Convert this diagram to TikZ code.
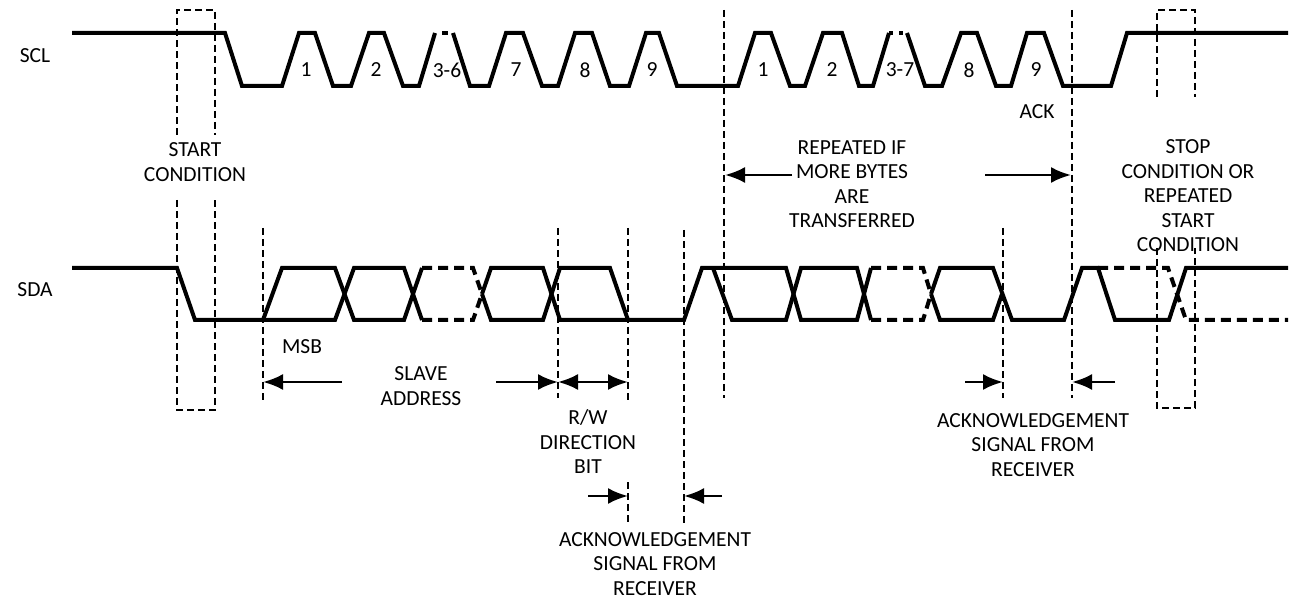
\documentclass[tikz,border=0pt]{standalone}
\usepackage{fontspec}
\setmainfont{Carlito}
\usetikzlibrary{arrows.meta}
\begin{document}
\begin{tikzpicture}[x=1pt,y=-1pt,
    sig/.style={line width=4pt},
    sigdash/.style={line width=4pt,dash pattern=on 10pt off 6pt},
    guide/.style={line width=1.8pt,dash pattern=on 7pt off 4pt},
    arr/.style={line width=2.6pt,-{Latex[length=20pt,width=16pt]}},
    lbl/.style={font=\fontsize{21.5}{24.5}\selectfont,align=center,inner sep=0pt}]
\useasboundingbox (0,0) rectangle (1290,601);
% signal names
\node[lbl] (scl) at (35,56) {SCL};
\node[lbl] (sda) at (35,290) {SDA};
% SCL
\draw[sig] (72,33) -- (225,33) -- (242,86) -- (282,86) -- (299,33) -- (315,33) -- (333,86) -- (351,86)
    -- (369,33) -- (384,33) -- (403,86) -- (419,86) -- (435,33);
\draw[line width=4pt,dash pattern=on 0pt off 7pt on 6pt off 20pt] (435,33) -- (453,33);
\draw[sig] (453,33) -- (470,86) -- (489,86) -- (506,33) -- (523,33) -- (542,86) -- (558,86) -- (575,33)
    -- (592,33) -- (610,86) -- (629,86) -- (646,33) -- (659,33) -- (677,86) -- (738,86) -- (755,33)
    -- (771,33) -- (790,86) -- (805,86) -- (823,33) -- (842,33) -- (859,86) -- (873,86) -- (889,33);
\draw[line width=4pt,dash pattern=on 4pt off 6pt on 4pt off 10pt] (889,33) -- (907,33);
\draw[sig] (907,33) -- (925,86) -- (942,86) -- (961,33) -- (977,33) -- (996,86) -- (1011,86) -- (1027,33)
    -- (1044,33) -- (1063,86) -- (1111,86) -- (1127,33) -- (1288,33);
% clock numbers
\foreach \x/\t [count=\i] in {306/1,376/2,447/3-6,516/7,585/8,652/9,763/1,832/2,900/3-7,969/8,1036/9}
    \node[lbl] (clk\i) at (\x,70) {\t};
\node[lbl] (ack) at (1037,112) {ACK};
% SDA, first line
\draw[sig] (72,268) -- (177,268) -- (195,320) -- (335,320) -- (354,268) -- (404,268) -- (422,320);
\draw[sigdash] (422,320) -- (473,320) -- (482,294);
\draw[sig] (482,294) -- (491,268) -- (543,268) -- (560,320) -- (684,320) -- (702,268) -- (786,268)
    -- (801,320) -- (857,320) -- (871,268);
\draw[sigdash] (871,268) -- (923,268) -- (931,294);
\draw[sig] (931,294) -- (940,320) -- (993,320) -- (1002,294);
% SDA, second line
\draw[sig] (263,320) -- (282,268) -- (335,268) -- (354,320) -- (404,320) -- (422,268);
\draw[sigdash] (422,268) -- (473,268) -- (482,294);
\draw[sig] (482,294) -- (491,320) -- (543,320) -- (560,268) -- (610,268) -- (628,320);
\draw[sig] (713,268) -- (732,320) -- (786,320) -- (801,268) -- (857,268) -- (871,320);
\draw[sigdash] (871,320) -- (923,320) -- (931,294);
\draw[sig] (931,294) -- (940,268) -- (993,268) -- (1012,320) -- (1064,320) -- (1082,268) -- (1098,268)
    -- (1115,320) -- (1169,320) -- (1186,268) -- (1288,268);
\draw[sigdash] (1098,268) -- (1168,268) -- (1186,320) -- (1288,320);
% start and stop boxes
\draw[guide] (177,135) -- (177,10) -- (215,10) -- (215,135);
\draw[guide] (177,200) -- (177,410) -- (215,410) -- (215,200);
\draw[guide] (1157,97) -- (1157,10) -- (1195,10) -- (1195,97);
\draw[guide] (1157,248) -- (1157,408) -- (1195,408) -- (1195,248);
% markers
\draw[guide] (263,228) -- (263,400);
\draw[guide] (558,228) -- (558,398);
\draw[guide] (628,228) -- (628,400);
\draw[guide] (628,482) -- (628,523);
\draw[guide] (684,230) -- (684,523);
\draw[guide] (724,10) -- (724,398);
\draw[guide] (1003,228) -- (1003,398);
\draw[guide] (1072,10) -- (1072,398);
% arrows
\coordinate (msb) at (263,382);
\coordinate (rwA) at (558,382);
\coordinate (rwB) at (628,382);
\coordinate (slaveL) at (342,382);
\coordinate (slaveR) at (496,382);
\coordinate (ackAL) at (588,496);
\coordinate (ackAtipL) at (628,496);
\coordinate (ackAR) at (722,496);
\coordinate (ackAtipR) at (684,496);
\coordinate (repL) at (792,175);
\coordinate (repLtip) at (725,175);
\coordinate (repR) at (985,175);
\coordinate (repRtip) at (1071,175);
\coordinate (ackBL) at (965,382);
\coordinate (ackBtipL) at (1003,382);
\coordinate (ackBR) at (1115,382);
\coordinate (ackBtipR) at (1072,382);
\draw[arr] (slaveL) -- (msb);
\draw[arr] (slaveR) -- (rwA);
\draw[arr,{Latex[length=20pt,width=16pt]}-{Latex[length=20pt,width=16pt]}] (rwA) -- (rwB);
\draw[arr] (ackAL) -- (ackAtipL);
\draw[arr] (ackAR) -- (ackAtipR);
\draw[arr] (repL) -- (repLtip);
\draw[arr] (repR) -- (repRtip);
\draw[arr] (ackBL) -- (ackBtipL);
\draw[arr] (ackBR) -- (ackBtipR);
% texts
\node[lbl] (start) at (195,162) {START\\CONDITION};
\node[lbl] (repeat) at (852,184) {REPEATED IF\\MORE BYTES\\ARE\\TRANSFERRED};
\node[lbl] (stop) at (1188,196) {STOP\\CONDITION OR\\REPEATED\\START\\CONDITION};
\node[lbl] (msbtxt) at (302,347) {MSB};
\node[lbl] (slave) at (421,386) {SLAVE\\ADDRESS};
\node[lbl] (rw) at (588,442) {R/W\\DIRECTION\\BIT};
\node[lbl] (ackA) at (655,564) {ACKNOWLEDGEMENT\\SIGNAL FROM\\RECEIVER};
\node[lbl] (ackB) at (1033,445) {ACKNOWLEDGEMENT\\SIGNAL FROM\\RECEIVER};
\end{tikzpicture}
\end{document}
